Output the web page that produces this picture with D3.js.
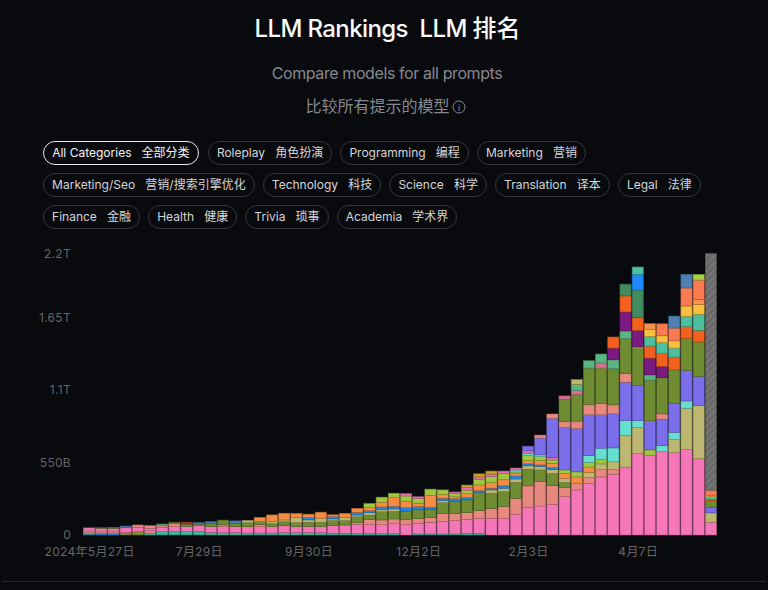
<!DOCTYPE html>
<html><head><meta charset="utf-8">
<script src="https://cdn.jsdelivr.net/npm/d3@7/dist/d3.min.js"></script>
<style>
html,body{margin:0;padding:0;background:#090a0d;width:768px;height:590px;overflow:hidden;font-family:Inter,"Noto Sans CJK SC",sans-serif}
#pills{position:absolute;left:43px;top:141px;width:680px;display:flex;flex-wrap:wrap;gap:8px}
.pill{box-sizing:border-box;height:24px;line-height:22px;border:1px solid #33363c;border-radius:12px;padding:0 8.1px;font-size:12px;color:#d4d5d8;white-space:pre}
.pill.on{border-color:#e8e8ea;color:#f4f4f5;margin-right:1px;padding:0 8.2px}
svg{position:absolute;left:0;top:0}
</style></head><body>
<svg id="c" width="768" height="590"></svg>
<div id="pills"></div>
<script>
const titleEn="LLM Rankings  LLM ";
const titleZh="排名";
const subEn="Compare models for all prompts";
const subZh="比较所有提示的模型";
const pillLabels=["All Categories   全部分类","Roleplay   角色扮演","Programming   编程","Marketing   营销","Marketing/Seo   营销/搜索引擎优化","Technology   科技","Science   科学","Translation   译本","Legal   法律","Finance   金融","Health   健康","Trivia   琐事","Academia   学术界"];
const yTicks=[0,550,1100,1650,2200];
const yLabels=["0","550B","1.1T","1.65T","2.2T"];
const tickIndex=[0,9,18,27,36,45];
const tickLabels=["2024年5月27日","7月29日","9月30日","12月2日","2月3日","4月7日"];
const barIndex=d3.range(52);

// values in billions of tokens, one per weekly bar, stacked bottom to top
const tealBase=[0,0,0,0,0,15,25,25,25,25,20,18,18,15,15,15,18,18,18,18,13,13,10,10,10,10,0,8,8,8,8,13,13,0,0,0,0,0,0,0,0,0,0,0,0,0,0,0,0,0,0,0];
const blueBase=[8,15,15,0,0,0,0,0,0,0,0,0,0,0,0,0,0,0,0,0,0,0,0,0,0,0,0,0,0,0,0,0,0,0,0,0,0,0,0,0,0,0,0,0,0,0,0,0,0,0,0,0];
const orangeBase=[13,0,0,0,0,0,0,0,0,0,0,0,0,0,0,0,0,0,0,0,0,0,0,0,0,0,0,0,0,0,0,0,0,0,0,0,0,0,0,0,0,0,0,0,0,0,0,0,0,0,0,0];
const oliveBase=[0,0,0,20,25,0,0,0,0,0,0,0,0,0,0,0,0,0,0,0,0,0,0,0,0,0,0,0,0,0,0,0,0,0,0,0,0,0,0,0,0,0,0,0,0,0,0,0,0,0,0,0];
const salmonBase=[0,15,15,0,0,18,0,0,0,0,0,0,0,0,0,0,0,0,0,0,0,0,0,0,0,0,0,0,0,0,0,0,0,0,0,0,0,0,0,0,0,0,0,0,0,0,0,0,0,0,0,0];
const khakiBase=[10,0,0,0,0,0,0,0,0,0,0,0,0,0,0,0,0,0,0,0,0,0,0,0,0,0,0,0,0,0,0,0,0,0,0,0,0,0,0,0,0,0,0,0,0,0,0,0,0,0,0,0];
const pink=[23,20,20,35,33,18,33,38,38,46,43,46,46,48,48,48,53,46,46,46,58,63,71,68,68,76,78,81,89,93,101,106,114,127,127,157,211,220,233,291,342,390,441,461,515,618,606,633,625,648,578,97];
const salmon=[0,0,0,0,18,20,15,25,0,0,0,13,0,0,18,0,0,0,0,0,0,0,15,40,36,36,38,36,36,61,55,51,58,74,89,119,162,185,142,71,51,46,55,36,0,0,0,0,0,0,0,0];
const olive=[0,5,8,0,0,0,0,8,20,13,25,36,25,30,20,25,30,30,33,33,38,33,43,33,63,58,66,66,63,84,93,97,137,116,114,124,127,89,93,38,0,0,0,0,0,0,0,0,0,0,0,0];
const khaki=[0,0,0,0,0,0,0,0,0,0,0,0,0,18,0,13,13,40,18,30,13,25,13,18,18,18,0,0,0,15,0,0,0,25,25,25,25,25,30,30,0,40,43,58,241,198,0,0,99,314,405,71];
const blue=[0,0,0,0,0,0,0,0,0,0,0,0,0,0,0,0,0,0,18,0,18,0,20,15,18,20,25,25,15,18,18,18,15,13,18,23,15,13,13,0,0,0,0,0,0,0,0,0,0,0,0,0];
const orange=[0,0,0,0,0,0,0,0,0,0,0,0,0,0,33,51,51,30,25,46,13,30,30,25,36,66,46,25,89,30,15,28,43,43,46,20,25,33,33,36,48,40,0,0,0,0,0,0,0,0,0,0];
const yellowGreen=[0,0,0,0,0,0,0,0,0,0,0,0,0,0,0,0,0,0,0,0,0,0,0,30,38,33,43,36,48,33,23,28,43,46,46,10,40,30,25,28,38,36,36,0,0,0,40,0,0,0,0,0];
const aqua=[0,0,0,0,0,0,0,0,0,0,0,0,0,0,0,0,0,0,0,0,0,0,0,0,0,0,0,0,0,0,0,0,0,0,0,15,15,13,0,0,0,51,84,106,112,51,0,46,55,55,0,0];
const pinkTwo=[0,0,0,0,0,0,0,0,0,0,0,0,0,0,0,0,0,0,0,0,0,0,0,0,0,0,18,13,0,0,13,20,18,18,20,15,18,0,20,0,0,0,0,0,0,0,0,0,0,0,0,0];
const darkGold=[0,0,0,0,0,0,0,0,0,0,0,0,0,0,0,0,0,0,0,0,0,0,0,0,0,0,0,0,0,0,0,18,23,23,0,0,0,0,0,0,0,0,0,0,0,0,0,0,0,0,0,0];
const slate=[0,0,0,0,0,0,0,0,0,0,0,0,0,0,0,0,0,0,0,0,0,0,0,0,0,0,0,0,0,0,0,0,0,0,0,0,36,127,296,321,327,309,253,258,291,266,220,200,218,230,220,43];
const salmonTwo=[0,0,0,0,0,0,0,0,0,0,0,0,0,0,0,0,0,0,0,0,0,0,0,0,0,0,0,0,0,0,0,0,0,0,0,0,0,23,33,48,58,76,84,68,66,0,0,40,0,0,0,0];
const oliveTwo=[0,0,0,0,0,0,0,0,0,0,0,0,0,0,0,0,0,0,0,0,0,0,0,0,0,0,0,0,0,0,0,0,0,0,0,0,0,0,0,167,203,279,271,274,264,296,309,274,256,245,261,48];
const rose=[0,0,0,0,0,0,0,0,0,0,0,0,0,0,0,0,0,0,0,0,0,0,0,0,0,0,0,0,0,0,0,0,0,0,0,0,0,0,0,25,28,0,38,0,0,0,0,0,0,0,0,0];
const greenTwo=[0,0,0,0,0,0,10,0,0,0,0,0,0,0,0,0,0,0,0,0,0,0,0,0,0,0,0,0,0,0,0,0,0,0,0,0,0,0,0,0,48,55,68,68,59,0,40,0,0,0,0,0];
const khakiTwo=[0,0,0,0,0,0,0,0,0,0,0,0,0,0,0,0,0,0,0,0,0,0,0,0,0,0,0,0,0,0,0,0,0,0,0,0,0,0,0,0,36,0,0,0,0,0,0,0,0,0,0,0];
const purple=[0,0,0,0,0,0,0,0,0,0,0,0,0,0,0,0,0,0,0,0,0,0,0,0,0,0,0,0,0,0,0,0,0,0,0,0,0,0,0,0,0,0,0,89,144,122,127,86,0,0,0,0];
const orangeRed=[0,0,0,0,0,0,0,0,0,0,0,0,0,0,0,0,0,0,0,0,0,0,0,0,0,0,0,0,0,0,0,0,0,0,0,0,0,0,0,0,0,0,0,84,122,97,91,97,97,89,89,13];
const seaGreen=[0,0,0,0,0,0,0,0,0,0,0,0,0,0,0,0,0,0,0,0,0,0,0,0,0,0,0,0,0,0,0,0,0,0,0,0,0,0,0,0,0,0,0,0,89,211,0,0,0,0,0,0];
const dodger=[0,0,0,0,0,0,0,0,0,0,0,0,0,0,0,0,0,0,0,0,0,0,0,0,0,0,0,0,0,0,0,0,0,0,0,0,0,0,0,0,0,0,0,0,0,119,0,0,0,0,0,0];
const aquamarine=[0,0,0,0,0,0,0,0,0,0,0,0,0,0,0,0,0,0,0,0,0,0,0,0,0,0,0,0,0,0,0,0,0,0,0,0,0,0,0,0,0,0,0,0,0,55,74,84,68,78,122,19];
const gold=[0,0,0,0,0,0,0,0,0,0,0,0,0,0,0,0,0,0,0,0,0,0,0,0,0,0,0,0,0,0,0,0,0,0,0,0,0,0,0,0,0,0,0,0,0,0,53,51,55,78,74,11];
const orangeTwo=[0,0,0,0,0,0,0,0,0,0,0,0,0,0,0,0,0,0,0,0,0,0,0,0,0,0,0,0,0,0,0,0,0,0,0,0,0,0,0,0,0,0,0,0,0,0,43,0,0,0,38,0];
const coral=[0,0,0,0,0,0,0,0,0,0,0,0,0,0,0,0,0,0,0,0,0,0,0,0,0,0,0,0,0,0,0,0,0,0,0,0,0,0,0,0,0,0,0,0,0,0,0,91,97,137,147,38];
const crimson=[0,0,0,0,0,0,0,0,15,0,0,0,0,0,0,0,0,0,0,0,0,0,0,0,0,0,0,0,0,0,0,0,0,0,0,0,0,0,0,0,0,0,0,0,0,0,0,0,0,0,0,0];
const steel=[0,0,0,13,0,0,0,0,0,10,13,0,18,0,0,0,0,0,0,0,0,0,0,0,0,0,0,0,0,0,0,0,0,0,0,0,0,0,0,0,0,0,0,0,0,0,0,0,91,104,0,0];
const limeTop=[0,0,0,0,0,0,0,0,0,0,0,0,0,0,0,0,0,0,0,0,0,0,0,0,0,0,0,0,0,0,0,0,0,0,0,0,0,0,0,0,0,0,0,0,0,0,0,0,0,0,43,0];
const incomplete=[0,0,0,0,0,0,0,0,0,0,0,0,0,0,0,0,0,0,0,0,0,0,0,0,0,0,0,0,0,0,0,0,0,0,0,0,0,0,0,0,0,0,0,0,0,0,0,0,0,0,0,1794];

const seriesList=[
 ["tealBase",tealBase,"#3cb89f"],["blueBase",blueBase,"#2b8fe0"],["orangeBase",orangeBase,"#f58b4c"],
 ["oliveBase",oliveBase,"#8a8a3c"],["salmonBase",salmonBase,"#e8897f"],["khakiBase",khakiBase,"#bdb76b"],
 ["pink",pink,"#f577b8"],["salmon",salmon,"#e8897f"],["olive",olive,"#6f8c33"],["khaki",khaki,"#bdb772"],
 ["blue",blue,"#1e88e5"],["orange",orange,"#f78c45"],["yellowGreen",yellowGreen,"#a0c83f"],["aqua",aqua,"#66dfd0"],
 ["pinkTwo",pinkTwo,"#ec6fb5"],["darkGold",darkGold,"#c9a227"],["slate",slate,"#7b6eea"],["salmonTwo",salmonTwo,"#e8897f"],
 ["oliveTwo",oliveTwo,"#6f8c33"],["rose",rose,"#d87093"],["greenTwo",greenTwo,"#5bb581"],["khakiTwo",khakiTwo,"#bdb76b"],
 ["purple",purple,"#7b1a80"],["orangeRed",orangeRed,"#f4601e"],["seaGreen",seaGreen,"#428a5f"],["dodger",dodger,"#1e88ff"],
 ["aquamarine",aquamarine,"#4dc0a0"],["gold",gold,"#fbbf3e"],["orangeTwo",orangeTwo,"#f9924f"],["coral",coral,"#fb7a52"],
 ["crimson",crimson,"#a63a2c"],["steel",steel,"#4f81b5"],["limeTop",limeTop,"#a5cf45"],["incomplete",incomplete,"url(#hatch)"]
];

const svg=d3.select("#c");
const defs=svg.append("defs");
const pat=defs.append("pattern").attr("id","hatch").attr("width",5).attr("height",5)
 .attr("patternUnits","userSpaceOnUse").attr("patternTransform","rotate(45)");
pat.append("rect").attr("width",5).attr("height",5).attr("fill","#696969");
pat.append("rect").attr("width",2).attr("height",5).attr("fill","#767676");

const tt=svg.append("text").attr("x",387.5).attr("y",37).attr("text-anchor","middle")
 .attr("font-size",24).attr("font-weight",500).attr("fill","#fafafa").style("white-space","pre");
tt.append("tspan").style("letter-spacing","-0.6px").text(titleEn);
tt.append("tspan").text(titleZh);
svg.append("text").attr("x",387).attr("y",79).attr("text-anchor","middle").style("letter-spacing","-0.4px")
 .attr("font-size",16).attr("fill","#85888f").text(subEn);
svg.append("text").attr("x",377.5).attr("y",112).attr("text-anchor","middle")
 .attr("font-size",16).attr("fill","#85888f").text(subZh);
svg.append("circle").attr("cx",459).attr("cy",107).attr("r",6).attr("fill","none").attr("stroke","#85888f");
svg.append("text").attr("x",459).attr("y",110.5).attr("text-anchor","middle").attr("font-size",9).attr("fill","#85888f").text("i");

d3.select("#pills").selectAll(".pill").data(pillLabels).join("div")
 .attr("class",(d,i)=>i===0?"pill on":"pill").text(d=>d);

const x=d3.scaleBand().domain(barIndex).range([83.5,716.5]).paddingInner(0.08).paddingOuter(0);
const y=d3.scaleLinear().domain([0,2200]).range([535,245]);

const rows=barIndex.map(i=>{const r={i};seriesList.forEach(s=>r[s[0]]=s[1][i]);return r;});
const stacked=d3.stack().keys(seriesList.map(s=>s[0]))(rows);

svg.append("g").selectAll("g").data(stacked).join("g")
 .each(function(layer,k){
  const col=seriesList[k][2];
  const edge=col.startsWith("url")?"#555":d3.color(col).darker(0.9).formatHex();
  d3.select(this).selectAll("rect").data(layer.filter(d=>d[1]>d[0])).join("rect")
   .attr("x",d=>x(d.data.i)).attr("width",x.bandwidth())
   .attr("y",d=>y(d[1])).attr("height",d=>y(d[0])-y(d[1]))
   .attr("fill",col).attr("stroke",edge).attr("stroke-width",0.6);
 });

const yAxis=svg.append("g").attr("transform","translate(78,0)")
 .call(d3.axisLeft(y).tickValues(yTicks).tickFormat((d,i)=>yLabels[i]).tickSize(0).tickPadding(7));
yAxis.select(".domain").remove();
yAxis.selectAll("text").attr("font-family",'Inter,"Noto Sans CJK SC"').attr("font-size",12).attr("fill","#666666").style("letter-spacing","0.3px");
yAxis.selectAll("text").filter(d=>d===2200).attr("dy","1.02em");

const xAxis=svg.append("g").attr("transform","translate(0.5,535)")
 .call(d3.axisBottom(x).tickValues(tickIndex).tickFormat((d,i)=>tickLabels[i]).tickSize(0).tickPadding(12));
xAxis.select(".domain").remove();
xAxis.selectAll("text").attr("font-family",'Inter,"Noto Sans CJK SC"').attr("font-size",12).attr("fill","#666666").style("letter-spacing","0.3px");

svg.append("line").attr("x1",2).attr("x2",766).attr("y1",581.5).attr("y2",581.5).attr("stroke","#24262b");
</script>
</body></html>
